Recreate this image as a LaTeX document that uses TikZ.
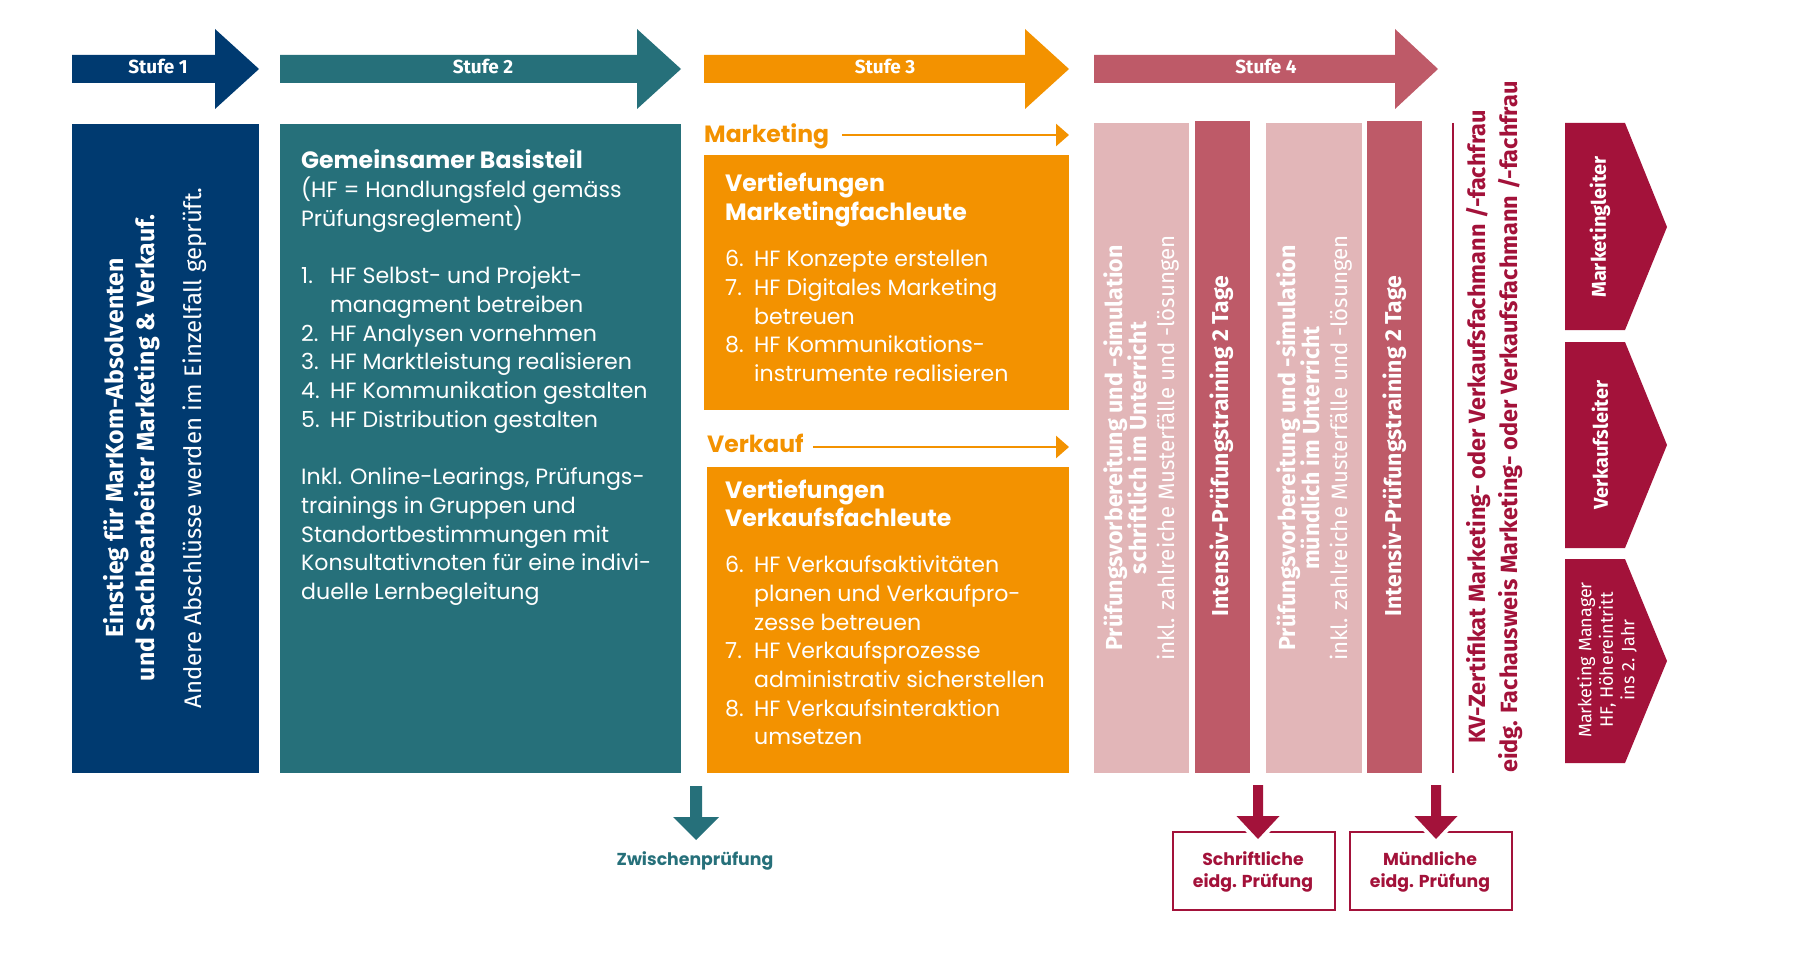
\documentclass[tikz,border=0pt]{standalone}
\usepackage{fontspec}
\setmainfont{Poppins}
\newfontfamily\cond{Fira Sans}
\usetikzlibrary{arrows.meta}
\definecolor{cnavy}{HTML}{003A70}
\definecolor{cteal}{HTML}{26707A}
\definecolor{corange}{HTML}{F39200}
\definecolor{crose}{HTML}{BE5A68}
\definecolor{cpink}{HTML}{E2B6B8}
\definecolor{ccrim}{HTML}{A3123A}
\newcommand\itemno[1]{\makebox[29pt][l]{#1}}
\newcommand\blocktext[1]{\parbox[t]{460pt}{\raggedright\fontsize{22.1}{28.7}\selectfont #1}}
\newcommand\headfont{\fontsize{23.6}{28.7}\selectfont\bfseries}
\tikzset{
  box/.style={inner sep=0pt, outer sep=0pt, draw=none, anchor=north west},
  stufelabel/.style={text=white, font=\cond\bfseries\fontsize{19}{22}\selectfont},
  textblock/.style={anchor=base west, inner sep=0pt, text=white},
  vtext/.style={rotate=90, align=center, text=white, inner sep=0pt},
  sidelabel/.style={anchor=base west, inner sep=0pt, text=corange, font=\bfseries\fontsize{23.5}{28}\selectfont},
  sidearrow/.style={draw=corange, line width=2.8pt, -{Triangle[length=13pt,width=22pt]}},
  exambox/.style={draw=ccrim, line width=1.8pt, fill=white, minimum width=162pt, minimum height=78pt, inner sep=0pt, anchor=north west},
  examtext/.style={text=ccrim, align=center, font=\bfseries\fontsize{17.3}{22.5}\selectfont},
}
\begin{document}
\begin{tikzpicture}[x=1pt,y=-1pt]
\useasboundingbox (0,0) rectangle (1800,963);

% ---------- Stufe arrows ----------
\fill[cnavy] (72,55) -- (215,55) -- (215,29) -- (259,69) -- (215,109) -- (215,83) -- (72,83) -- cycle;
\fill[cteal] (280,55) -- (637,55) -- (637,29) -- (681,69) -- (637,109) -- (637,83) -- (280,83) -- cycle;
\fill[corange] (704,55) -- (1025,55) -- (1025,29) -- (1069,69) -- (1025,109) -- (1025,83) -- (704,83) -- cycle;
\fill[crose] (1094,55) -- (1395,55) -- (1395,29) -- (1438,69) -- (1395,109) -- (1395,83) -- (1094,83) -- cycle;
\node[stufelabel] (st1) at (158,66.5) {Stufe 1};
\node[stufelabel] (st2) at (483,66.5) {Stufe 2};
\node[stufelabel] (st3) at (885,66.5) {Stufe 3};
\node[stufelabel] (st4) at (1266,66.5) {Stufe 4};

% ---------- Stufe 1 ----------
\node[box, fill=cnavy, minimum width=187pt, minimum height=649pt] (s1box) at (72,124) {};
\node[vtext, font=\cond\fontsize{24}{31}\selectfont] (s1text) at (155,448)
  {{\fontsize{24.8}{31}\selectfont\bfseries Einstieg für MarKom-Absolventen}\\{\fontsize{24.8}{31}\selectfont\bfseries und Sachbearbeiter Marketing \& Verkauf.}\\[16pt]Andere Abschlüsse werden im Einzelfall geprüft.};

% ---------- Stufe 2 ----------
\node[box, fill=cteal, minimum width=401pt, minimum height=649pt] (s2box) at (280,124) {};
\node[textblock] (s2text) at (301,169) {\blocktext{%
{\headfont Gemeinsamer Basisteil}\\
(HF = Handlungsfeld gemäss\\
Prüfungsreglement)\\[28.7pt]
\itemno{1.}HF Selbst- und Projekt-\\
\hspace*{29pt}managment betreiben\\
\itemno{2.}HF Analysen vornehmen\\
\itemno{3.}HF Marktleistung realisieren\\
\itemno{4.}HF Kommunikation gestalten\\
\itemno{5.}HF Distribution gestalten\\[28.7pt]
Inkl. Online-Learings, Prüfungs-\\
trainings in Gruppen und\\
Standortbestimmungen mit\\
Konsultativnoten für eine indivi-\\
duelle Lernbegleitung}};

% ---------- Stufe 3 ----------
\node[sidelabel] (mklabel) at (704,143) {Marketing};
\coordinate (mkfrom) at (842,135);
\coordinate (mkto) at (1069,135);
\draw[sidearrow] (mkfrom) -- (mkto);
\node[box, fill=corange, minimum width=365pt, minimum height=255pt] (mkbox) at (704,155) {};
\node[textblock] (mktext) at (725,192) {\blocktext{%
{\headfont Vertiefungen\\ Marketingfachleute}\\[17.3pt]
\itemno{6.}HF Konzepte erstellen\\
\itemno{7.}HF Digitales Marketing\\
\hspace*{29pt}betreuen\\
\itemno{8.}HF Kommunikations-\\
\hspace*{29pt}instrumente realisieren}};

\node[sidelabel] (vklabel) at (707,452) {Verkauf};
\coordinate (vkfrom) at (813,447);
\coordinate (vkto) at (1069,447);
\draw[sidearrow] (vkfrom) -- (vkto);
\node[box, fill=corange, minimum width=362pt, minimum height=306pt] (vkbox) at (707,467) {};
\node[textblock] (vktext) at (725,498) {\blocktext{%
{\headfont Vertiefungen\\ Verkaufsfachleute}\\[17.3pt]
\itemno{6.}HF Verkaufsaktivitäten\\
\hspace*{29pt}planen und Verkaufpro-\\
\hspace*{29pt}zesse betreuen\\
\itemno{7.}HF Verkaufsprozesse\\
\hspace*{29pt}administrativ sicherstellen\\
\itemno{8.}HF Verkaufsinteraktion\\
\hspace*{29pt}umsetzen}};

% ---------- Stufe 4 ----------
\node[box, fill=cpink, minimum width=95pt, minimum height=650pt] (c1) at (1094,123) {};
\node[box, fill=crose, minimum width=55pt, minimum height=652pt] (c2) at (1195,121) {};
\node[box, fill=cpink, minimum width=96pt, minimum height=650pt] (c3) at (1266,123) {};
\node[box, fill=crose, minimum width=55pt, minimum height=652pt] (c4) at (1367,121) {};
\node[vtext, font=\cond\fontsize{22.3}{24}\selectfont] (c1text) at (1141,448)
  {{\fontsize{23.2}{24}\selectfont\bfseries Prüfungsvorbereitung und -simulation}\\{\fontsize{23.2}{24}\selectfont\bfseries schriftlich im Unterricht}\\[4pt]inkl. zahlreiche Musterfälle und -lösungen};
\node[vtext, font=\cond\bfseries\fontsize{23}{24}\selectfont] (c2text) at (1222,446)
  {Intensiv-Prüfungstraining 2 Tage};
\node[vtext, font=\cond\fontsize{22.3}{24}\selectfont] (c3text) at (1314,448)
  {{\fontsize{23.2}{24}\selectfont\bfseries Prüfungsvorbereitung und -simulation}\\{\fontsize{23.2}{24}\selectfont\bfseries mündlich im Unterricht}\\[4pt]inkl. zahlreiche Musterfälle und -lösungen};
\node[vtext, font=\cond\bfseries\fontsize{23}{24}\selectfont] (c4text) at (1395,446)
  {Intensiv-Prüfungstraining 2 Tage};

% ---------- Abschluss ----------
\coordinate (kvtop) at (1453,123);
\coordinate (kvbot) at (1453,773);
\draw[ccrim, line width=2pt] (kvtop) -- (kvbot);
\node[vtext, text=ccrim, font=\cond\bfseries\fontsize{23.5}{32}\selectfont] (kvtext) at (1495,427)
  {KV-Zertifikat Marketing- oder Verkaufsfachmann /-fachfrau\\eidg. Fachausweis Marketing- oder Verkaufsfachmann /-fachfrau};

\fill[ccrim] (1565,123) -- (1625,123) -- (1667,227) -- (1625,330) -- (1565,330) -- cycle;
\fill[ccrim] (1565,342) -- (1625,342) -- (1667,445) -- (1625,548) -- (1565,548) -- cycle;
\fill[ccrim] (1565,559) -- (1625,559) -- (1667,661) -- (1625,763) -- (1565,763) -- cycle;
\node[vtext, font=\cond\bfseries\fontsize{20}{22}\selectfont] (ml) at (1600,227) {Marketingleiter};
\node[vtext, font=\cond\bfseries\fontsize{20}{22}\selectfont] (vl) at (1600,445) {Verkaufsleiter};
\node[vtext, font=\cond\fontsize{18}{21.5}\selectfont] (mm) at (1607,660) {Marketing Manager\\HF, Höhereintritt\\ins 2. Jahr};

% ---------- Prüfungen ----------
\fill[cteal] (690,786) -- (702,786) -- (702,817) -- (719,817) -- (696,840) -- (673,817) -- (690,817) -- cycle;
\node[text=cteal, font=\bfseries\fontsize{17.3}{22}\selectfont] (zp) at (695,861) {Zwischenprüfung};

\node[exambox] (ex1) at (1172,831) {};
\node[exambox] (ex2) at (1349,831) {};
\node[examtext] (ex1t) at (1253,872) {Schriftliche\\eidg. Prüfung};
\node[examtext] (ex2t) at (1430,872) {Mündliche\\eidg. Prüfung};
\foreach \ax in {1258,1436}{
  \filldraw[white, line width=8pt, line join=miter] (\ax-5,786) -- (\ax+5,786) -- (\ax+5,816) -- (\ax+21,816) -- (\ax,839) -- (\ax-21,816) -- (\ax-5,816) -- cycle;
  \fill[ccrim] (\ax-5,785) -- (\ax+5,785) -- (\ax+5,816) -- (\ax+21.5,816) -- (\ax,839) -- (\ax-21.5,816) -- (\ax-5,816) -- cycle;
}
\end{tikzpicture}
\end{document}
